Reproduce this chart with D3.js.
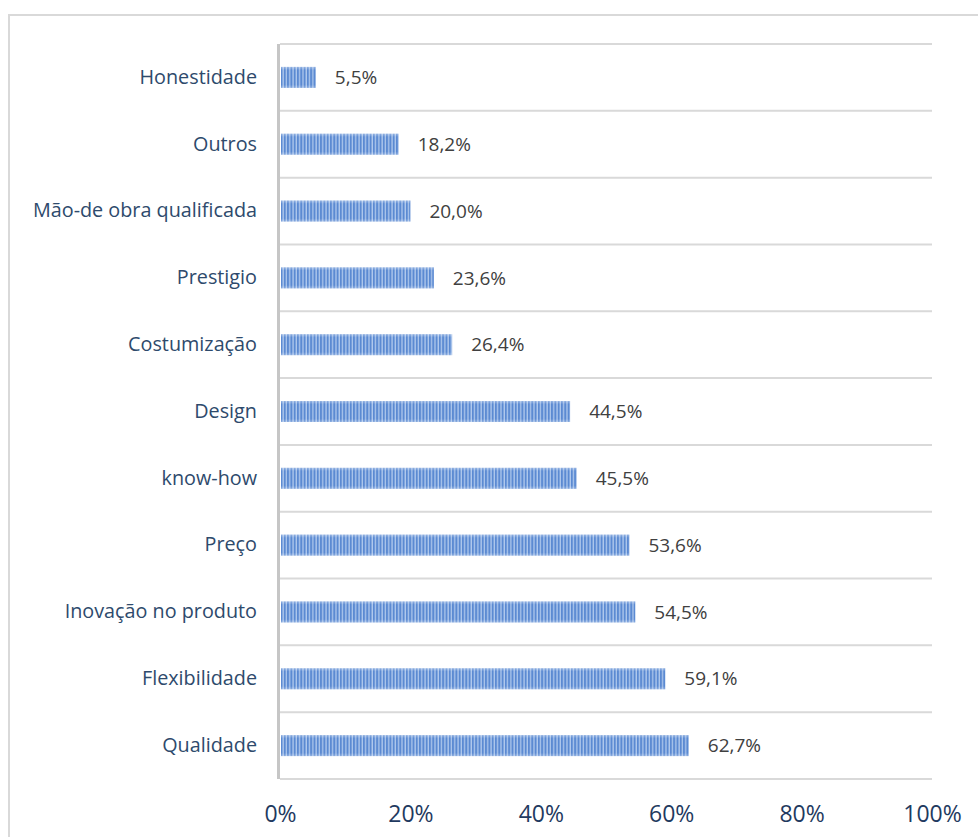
<!DOCTYPE html>
<html>
<head>
<meta charset="utf-8">
<script src="https://cdn.jsdelivr.net/npm/d3@7"></script>
<style>
  html, body { margin: 0; padding: 0; background: #fff; }
  svg { display: block; }
</style>
</head>
<body>
<svg id="chart" width="978" height="837"></svg>
<script>
// Categories listed from top to bottom
const categories = [
  "Honestidade", "Outros", "Mão-de obra qualificada", "Prestigio ",
  "Costumização", "Design", "know-how", "Preço",
  "Inovação no produto", "Flexibilidade", "Qualidade"
];
const values = [5.5, 18.2, 20.0, 23.6, 26.4, 44.5, 45.5, 53.6, 54.5, 59.1, 62.7];
const xTicks = [0, 20, 40, 60, 80, 100];

const svg = d3.select("#chart");
const font = "'Open Sans', 'Noto Sans', sans-serif";

// outer frame
svg.append("rect")
  .attr("x", 9).attr("y", 15).attr("width", 980).attr("height", 900)
  .attr("fill", "none").attr("stroke", "#d9d9d9").attr("stroke-width", 2);

const plot = { left: 280, right: 932, top: 44, bottom: 779 };

const x = d3.scaleLinear().domain([0, 100]).range([plot.left, plot.right]);
const y = d3.scaleBand().domain(categories).range([plot.top, plot.bottom]);

// vertical-stripe fill for the bars
const defs = svg.append("defs");
const pat = defs.append("pattern")
  .attr("id", "stripes").attr("patternUnits", "userSpaceOnUse")
  .attr("width", 3.3).attr("height", 10);
pat.append("rect").attr("x", 0).attr("y", 0).attr("width", 3.3).attr("height", 10).attr("fill", "#b0c9ed");
pat.append("rect").attr("x", 0).attr("y", 0).attr("width", 2).attr("height", 10).attr("fill", "#5b8ad2");

// soft highlight along the top and bottom edges of each bar
const sheen = defs.append("linearGradient")
  .attr("id", "sheen").attr("x1", 0).attr("y1", 0).attr("x2", 0).attr("y2", 1);
sheen.append("stop").attr("offset", "0%").attr("stop-color", "#fff").attr("stop-opacity", 0.35);
sheen.append("stop").attr("offset", "15%").attr("stop-color", "#fff").attr("stop-opacity", 0);
sheen.append("stop").attr("offset", "85%").attr("stop-color", "#fff").attr("stop-opacity", 0);
sheen.append("stop").attr("offset", "100%").attr("stop-color", "#fff").attr("stop-opacity", 0.3);

// horizontal separators between categories
const bounds = categories.map(c => y(c)).concat([plot.bottom]);
svg.append("g").selectAll("line").data(bounds).join("line")
  .attr("x1", plot.left).attr("x2", plot.right)
  .attr("y1", d => d).attr("y2", d => d)
  .attr("stroke", "#d9d9d9").attr("stroke-width", 2);

// bars
const barH = 21;
const barY = i => y(categories[i]) + y.bandwidth() / 2 - barH / 2;
const bars = svg.append("g");
bars.selectAll("rect.bar").data(values).join("rect")
  .attr("class", "bar")
  .attr("x", x(0) + 1)
  .attr("y", (d, i) => barY(i))
  .attr("width", d => x(d) - x(0) - 1)
  .attr("height", barH)
  .attr("fill", "url(#stripes)");
bars.selectAll("rect.sheen").data(values).join("rect")
  .attr("class", "sheen")
  .attr("x", x(0) + 1)
  .attr("y", (d, i) => barY(i))
  .attr("width", d => x(d) - x(0) - 1)
  .attr("height", barH)
  .attr("fill", "url(#sheen)");

// value labels
svg.append("g").selectAll("text").data(values).join("text")
  .attr("x", d => x(d) + 19)
  .attr("y", (d, i) => y(categories[i]) + y.bandwidth() / 2)
  .attr("dy", "0.35em")
  .attr("font-family", font).attr("font-size", 19)
  .attr("fill", "#404040")
  .text(d => d.toFixed(1).replace(".", ",") + "%");

// category axis
const yAxis = svg.append("g")
  .attr("transform", `translate(${plot.left - 1},0)`)
  .call(d3.axisLeft(y).tickSize(0).tickPadding(22));
yAxis.select(".domain").remove();
yAxis.selectAll("text")
  .attr("font-family", font).attr("font-size", 19.8)
  .attr("fill", "#2e4a6c");

svg.append("line")
  .attr("x1", plot.left - 1.5).attr("x2", plot.left - 1.5)
  .attr("y1", plot.top).attr("y2", plot.bottom)
  .attr("stroke", "#c6c6c6").attr("stroke-width", 3);

// value axis labels
const xAxis = svg.append("g")
  .attr("transform", `translate(0,${plot.bottom})`)
  .call(d3.axisBottom(x).tickValues(xTicks).tickSize(0).tickPadding(27)
    .tickFormat(d => d + "%"));
xAxis.select(".domain").remove();
xAxis.selectAll("text")
  .attr("font-family", font).attr("font-size", 23)
  .attr("fill", "#1f3a60");
</script>
</body>
</html>
